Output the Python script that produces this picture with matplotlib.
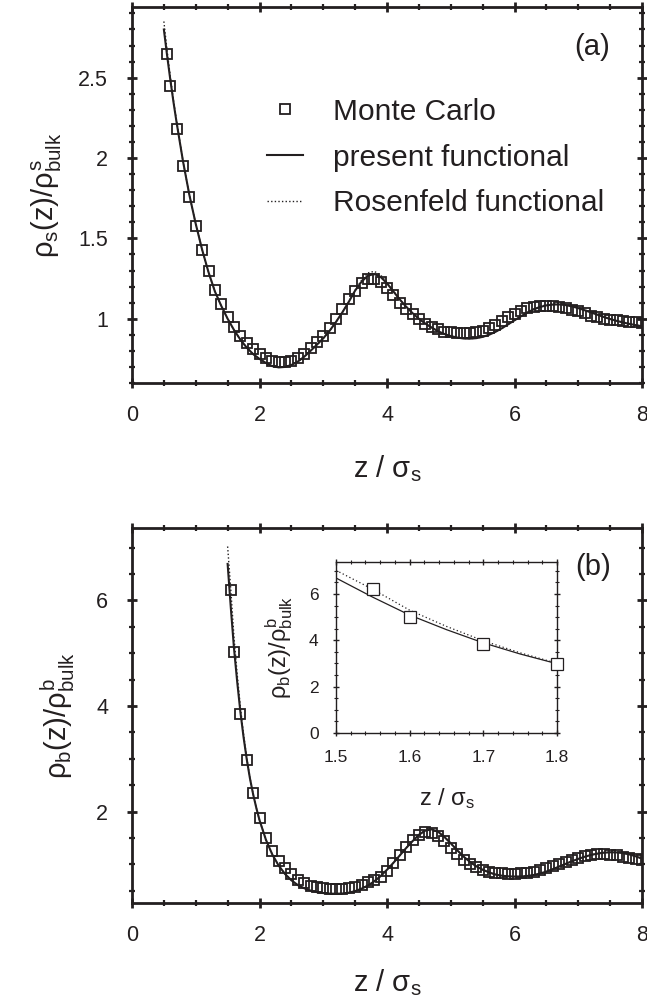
import matplotlib
matplotlib.use('Agg')
import numpy as np
import matplotlib.pyplot as plt
from matplotlib.ticker import MultipleLocator, FormatStrFormatter
from matplotlib.lines import Line2D

plt.rcParams['font.family'] = ['Liberation Sans', 'DejaVu Sans']
plt.rcParams['mathtext.fontset'] = 'custom'
plt.rcParams['mathtext.rm'] = 'Liberation Sans'
plt.rcParams['mathtext.it'] = 'Liberation Sans'
plt.rcParams['mathtext.sf'] = 'Liberation Sans'
plt.rcParams['mathtext.bf'] = 'Liberation Sans:bold'

INK = '#231f20'

# ---------------- panel (a): small spheres ----------------
a_mc_z = [0.55, 0.6, 0.7, 0.8, 0.9, 1.0, 1.1, 1.2, 1.3, 1.4, 1.5, 1.6, 1.7, 1.8, 1.9,
          2.0, 2.1, 2.2, 2.3, 2.4, 2.5, 2.6, 2.7, 2.8, 2.9, 3.0, 3.1, 3.2, 3.3, 3.4,
          3.5, 3.6, 3.7, 3.8, 3.9, 4.0, 4.1, 4.2, 4.3, 4.4, 4.5, 4.6, 4.7, 4.8, 4.9,
          5.0, 5.1, 5.2, 5.3, 5.4, 5.5, 5.6, 5.7, 5.8, 5.9, 6.0, 6.1, 6.2, 6.3, 6.4,
          6.5, 6.6, 6.7, 6.8, 6.9, 7.0, 7.1, 7.2, 7.3, 7.4, 7.5, 7.6, 7.7, 7.8, 7.9, 8.0]
a_mc_rho = [2.65, 2.45, 2.18, 1.95, 1.76, 1.58, 1.43, 1.30, 1.18, 1.09, 1.01, 0.95, 0.895, 0.85, 0.81,
            0.78, 0.755, 0.735, 0.73, 0.73, 0.74, 0.755, 0.78, 0.815, 0.855, 0.895, 0.945, 1.00, 1.06, 1.12,
            1.175, 1.22, 1.245, 1.25, 1.23, 1.19, 1.145, 1.10, 1.06, 1.03, 1.00, 0.97, 0.95, 0.935, 0.92,
            0.915, 0.91, 0.91, 0.91, 0.915, 0.925, 0.94, 0.96, 0.985, 1.01, 1.03, 1.05, 1.065, 1.075, 1.08,
            1.08, 1.08, 1.075, 1.065, 1.055, 1.045, 1.035, 1.02, 1.01, 1.00, 0.995, 0.99, 0.985, 0.98, 0.978, 0.975]

a_th_z = [0.5, 0.55, 0.6, 0.65, 0.7, 0.8, 0.9, 1.0, 1.1, 1.2, 1.3, 1.4, 1.5, 1.6, 1.7, 1.8, 1.9,
          2.0, 2.1, 2.2, 2.3, 2.4, 2.5, 2.6, 2.7, 2.8, 2.9, 3.0, 3.1, 3.2, 3.3, 3.4,
          3.5, 3.6, 3.7, 3.8, 3.9, 4.0, 4.1, 4.2, 4.3, 4.4, 4.5, 4.6, 4.7, 4.8, 4.9,
          5.0, 5.1, 5.2, 5.3, 5.4, 5.5, 5.6, 5.7, 5.8, 5.9, 6.0, 6.1, 6.2, 6.3, 6.4,
          6.5, 6.6, 6.7, 6.8, 6.9, 7.0, 7.1, 7.2, 7.3, 7.4, 7.5, 7.6, 7.7, 7.8, 7.9, 8.0]
a_present = [2.80, 2.64, 2.49, 2.35, 2.22, 1.98, 1.77, 1.59, 1.43, 1.29, 1.17, 1.08, 1.00, 0.93, 0.87, 0.82, 0.78,
             0.75, 0.725, 0.705, 0.697, 0.70, 0.712, 0.733, 0.763, 0.80, 0.838, 0.878, 0.925, 0.98, 1.04, 1.105,
             1.175, 1.23, 1.268, 1.278, 1.26, 1.22, 1.17, 1.12, 1.075, 1.035, 1.00, 0.97, 0.945, 0.922, 0.905,
             0.892, 0.883, 0.877, 0.876, 0.879, 0.887, 0.90, 0.918, 0.94, 0.965, 0.99, 1.015, 1.038, 1.058, 1.073,
             1.083, 1.088, 1.089, 1.085, 1.077, 1.066, 1.053, 1.039, 1.025, 1.011, 0.998, 0.987, 0.977, 0.968, 0.96, 0.953]
a_rosenfeld = [2.85, 2.67, 2.51, 2.36, 2.23, 1.98, 1.77, 1.59, 1.43, 1.29, 1.17, 1.08, 1.00, 0.93, 0.87, 0.82, 0.78,
               0.75, 0.725, 0.705, 0.697, 0.70, 0.712, 0.733, 0.763, 0.80, 0.838, 0.878, 0.925, 0.98, 1.04, 1.105,
               1.178, 1.24, 1.285, 1.295, 1.272, 1.225, 1.172, 1.12, 1.075, 1.035, 1.00, 0.97, 0.945, 0.922, 0.905,
               0.892, 0.883, 0.877, 0.876, 0.879, 0.887, 0.90, 0.918, 0.94, 0.965, 0.99, 1.015, 1.038, 1.06, 1.076,
               1.087, 1.093, 1.094, 1.089, 1.080, 1.068, 1.055, 1.04, 1.026, 1.012, 0.999, 0.988, 0.978, 0.969, 0.961, 0.954]

# ---------------- panel (b): big spheres ----------------
b_mc_z = [1.55, 1.6, 1.7, 1.8, 1.9, 2.0, 2.1, 2.2, 2.3, 2.4, 2.5, 2.6, 2.7, 2.8, 2.9,
          3.0, 3.1, 3.2, 3.3, 3.4, 3.5, 3.6, 3.7, 3.8, 3.9, 4.0, 4.1, 4.2, 4.3, 4.4,
          4.5, 4.6, 4.7, 4.8, 4.9, 5.0, 5.1, 5.2, 5.3, 5.4, 5.5, 5.6, 5.7, 5.8, 5.9,
          6.0, 6.1, 6.2, 6.3, 6.4, 6.5, 6.6, 6.7, 6.8, 6.9, 7.0, 7.1, 7.2, 7.3, 7.4,
          7.5, 7.6, 7.7, 7.8, 7.9, 8.0]
b_mc_rho = [6.2, 5.02, 3.85, 2.98, 2.35, 1.88, 1.51, 1.26, 1.07, 0.93, 0.81, 0.71, 0.65, 0.60, 0.565,
            0.545, 0.535, 0.53, 0.53, 0.545, 0.57, 0.61, 0.66, 0.71, 0.77, 0.88, 1.02, 1.18, 1.33, 1.46,
            1.56, 1.61, 1.60, 1.53, 1.44, 1.32, 1.20, 1.09, 1.01, 0.95, 0.90, 0.865, 0.84, 0.83, 0.825,
            0.825, 0.83, 0.84, 0.86, 0.89, 0.93, 0.97, 1.01, 1.05, 1.09, 1.13, 1.16, 1.18, 1.19, 1.19,
            1.18, 1.17, 1.15, 1.13, 1.11, 1.09]

b_th_z = [1.5, 1.55, 1.6, 1.65, 1.7, 1.75, 1.8, 1.85, 1.9, 1.95, 2.0, 2.1, 2.2, 2.3, 2.4, 2.5, 2.6,
          2.7, 2.8, 2.9, 3.0, 3.1, 3.2, 3.3, 3.4, 3.5, 3.6, 3.7, 3.8, 3.9, 4.0, 4.1, 4.2, 4.3,
          4.4, 4.5, 4.6, 4.7, 4.8, 4.9, 5.0, 5.1, 5.2, 5.3, 5.4, 5.5, 5.6, 5.7, 5.8, 5.9, 6.0,
          6.1, 6.2, 6.3, 6.4, 6.5, 6.6, 6.7, 6.8, 6.9, 7.0, 7.1, 7.2, 7.3, 7.4, 7.5, 7.6, 7.7,
          7.8, 7.9, 8.0]
b_present = [6.69, 5.86, 5.09, 4.46, 3.89, 3.41, 2.99, 2.63, 2.33, 2.07, 1.84, 1.47, 1.19, 0.98, 0.82, 0.70, 0.61,
             0.55, 0.505, 0.475, 0.458, 0.448, 0.445, 0.45, 0.465, 0.495, 0.54, 0.60, 0.68, 0.78, 0.90, 1.03, 1.17, 1.31,
             1.44, 1.56, 1.64, 1.665, 1.62, 1.52, 1.40, 1.27, 1.15, 1.05, 0.965, 0.90, 0.85, 0.81, 0.787, 0.775, 0.77,
             0.772, 0.782, 0.80, 0.828, 0.865, 0.91, 0.96, 1.01, 1.06, 1.105, 1.145, 1.18, 1.205, 1.222, 1.23, 1.228, 1.215,
             1.19, 1.155, 1.11]
b_rosenfeld = [7.02, 6.20, 5.30, 4.60, 3.98, 3.46, 3.01, 2.64, 2.335, 2.07, 1.84, 1.47, 1.19, 0.98, 0.82, 0.70, 0.61,
               0.55, 0.505, 0.475, 0.458, 0.448, 0.445, 0.45, 0.465, 0.495, 0.54, 0.60, 0.68, 0.78, 0.90, 1.03, 1.17, 1.31,
               1.445, 1.565, 1.65, 1.675, 1.63, 1.525, 1.40, 1.27, 1.15, 1.05, 0.965, 0.90, 0.85, 0.81, 0.787, 0.775, 0.77,
               0.772, 0.782, 0.80, 0.828, 0.865, 0.91, 0.96, 1.01, 1.06, 1.105, 1.145, 1.18, 1.205, 1.224, 1.233, 1.231, 1.217,
               1.192, 1.157, 1.112]

legend_labels = ['Monte Carlo', 'present functional', 'Rosenfeld functional']
xlabel = r'$\mathregular{z\ /\ \sigma_s}$'
ylabel_a = r'$\rho_s(z)/\rho^s_{bulk}$'
ylabel_b = r'$\rho_b(z)/\rho^b_{bulk}$'

W, H = 647, 1007
fig = plt.figure(figsize=(W / 100, H / 100), dpi=100)

def frac(l, t, r, b):
    return [l / W, 1 - b / H, (r - l) / W, (b - t) / H]

ax1 = fig.add_axes(frac(132, 7, 642, 383))
ax2 = fig.add_axes(frac(132, 528, 642, 903))
ax3 = fig.add_axes(frac(336, 562, 557, 733))


def style(ax, lw, majlen, minlen, fs, xpad, ypad):
    for s in ax.spines.values():
        s.set_linewidth(lw)
        s.set_color(INK)
    ax.tick_params(which='both', direction='inout', top=True, right=True,
                   colors=INK, labelsize=fs)
    ax.tick_params(axis='x', which='both', pad=xpad)
    ax.tick_params(axis='y', which='both', pad=ypad)
    ax.tick_params(which='major', length=majlen, width=lw)
    ax.tick_params(which='minor', length=minlen, width=lw * 0.8)


for ax in (ax1, ax2):
    style(ax, 2.0, 7.5, 4.0, 15.5, 12, 13.5)
    ax.set_xlim(0, 8)
    ax.xaxis.set_major_locator(MultipleLocator(2))
    ax.xaxis.set_minor_locator(MultipleLocator(0.5))
    ax.yaxis.set_major_formatter(FormatStrFormatter('%g'))

ax1.set_xlabel(xlabel, fontsize=21, color=INK, labelpad=20)
ax2.set_xlabel(xlabel, fontsize=21, color=INK, labelpad=15)

# panel a
ax1.plot(a_mc_z, a_mc_rho, ls='none', marker='s', ms=7, mfc='none', mec=INK, mew=1.3)
ax1.plot(a_th_z, a_present, '-', color=INK, lw=1.5)
ax1.plot(a_th_z, a_rosenfeld, color=INK, lw=1.0, ls=(0, (1, 1.6)))
ax1.set_ylim(0.6, 2.94)
ax1.yaxis.set_minor_locator(MultipleLocator(0.1))
ax1.set_yticks([1, 1.5, 2, 2.5])
ax1.set_ylabel(ylabel_a, fontsize=21, color=INK, labelpad=10)
ax1.text(0.902, 0.894, '(a)', transform=ax1.transAxes, fontsize=21, color=INK,
         ha='center', va='center')

handles = [Line2D([], [], ls='none', marker='s', ms=7, mfc='none', mec=INK, mew=1.3),
           Line2D([], [], ls='-', color=INK, lw=1.5),
           Line2D([], [], ls=(0, (1, 1.6)), color=INK, lw=1.0)]
ax1.legend(handles, legend_labels, loc='upper left', bbox_to_anchor=(0.265, 0.759),
           frameon=False, fontsize=21.5, handlelength=1.2, handletextpad=1.0,
           labelspacing=0.6, borderpad=0, borderaxespad=0, labelcolor=INK)

# panel b
ax2.plot(b_mc_z, b_mc_rho, ls='none', marker='s', ms=7, mfc='none', mec=INK, mew=1.3)
ax2.plot(b_th_z, b_present, '-', color=INK, lw=1.5)
ax2.plot(b_th_z, b_rosenfeld, color=INK, lw=1.0, ls=(0, (1, 1.6)))
ax2.set_ylim(0.27, 7.37)
ax2.set_yticks([2, 4, 6])
ax2.yaxis.set_minor_locator(MultipleLocator(0.5))
ax2.set_ylabel(ylabel_b, fontsize=21, color=INK, labelpad=14)
ax2.text(0.904, 0.896, '(b)', transform=ax2.transAxes, fontsize=21, color=INK,
         ha='center', va='center')

# inset
style(ax3, 1.0, 5.0, 2.5, 12.5, 10, 10)
zin = np.array(b_mc_z)
rin = np.array(b_mc_rho)
sel = zin <= 1.8
ax3.plot(zin[sel], rin[sel], ls='none', marker='s', ms=8, mfc='white', mec=INK, mew=0.9,
         clip_on=False, zorder=5)
ax3.plot(b_th_z, b_present, '-', color=INK, lw=0.9)
ax3.plot(b_th_z, b_rosenfeld, color=INK, lw=0.9, ls=(0, (1, 2)))
ax3.set_xlim(1.5, 1.8)
ax3.set_ylim(0, 7.38)
ax3.set_xticks([1.5, 1.6, 1.7, 1.8])
ax3.xaxis.set_minor_locator(MultipleLocator(0.02))
ax3.set_yticks([0, 2, 4, 6])
ax3.yaxis.set_minor_locator(MultipleLocator(0.5))
ax3.xaxis.set_major_formatter(FormatStrFormatter('%g'))
ax3.set_xlabel(xlabel, fontsize=17, color=INK, labelpad=15)
ax3.set_ylabel(ylabel_b, fontsize=17, color=INK, labelpad=10)

fig.savefig('out.png', dpi=100)
